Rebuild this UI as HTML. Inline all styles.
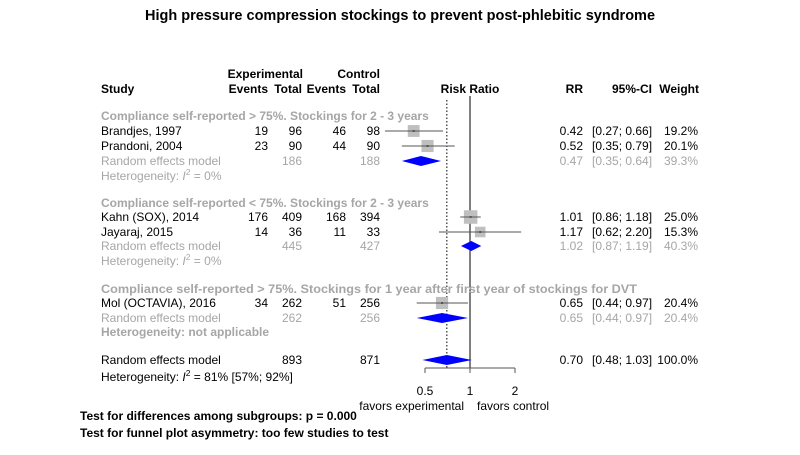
<!DOCTYPE html>
<html><head><meta charset="utf-8"><style>
body{margin:0;background:#fff}
svg{font-family:"Liberation Sans",Arial,sans-serif;font-size:12px}
.b{font-weight:bold;font-size:12px}.g{fill:#a6a6a6}
</style></head><body>
<svg id="c" width="800" height="450">
<text x="400" y="20" text-anchor="middle" font-weight="bold" font-size="14.5">High pressure compression stockings to prevent post-phlebitic syndrome</text>
<g class="b">
<text x="101" y="93">Study</text>
<text x="303" y="78" text-anchor="end">Experimental</text>
<text x="380" y="78" text-anchor="end">Control</text>
<text x="268" y="93" text-anchor="end">Events</text>
<text x="302" y="93" text-anchor="end">Total</text>
<text x="346" y="93" text-anchor="end">Events</text>
<text x="380" y="93" text-anchor="end">Total</text>
<text x="470" y="93" text-anchor="middle">Risk Ratio</text>
<text x="583" y="93" text-anchor="end">RR</text>
<text x="652" y="93" text-anchor="end">95%-CI</text>
<text x="699" y="93" text-anchor="end">Weight</text>
</g>
<g id="plot"></g>
</svg>
<script>
const studies=["Brandjes, 1997","Prandoni, 2004","Kahn (SOX), 2014","Jayaraj, 2015","Mol (OCTAVIA), 2016"];
const eE=[19,23,176,14,34], eT=[96,90,409,36,262], cE=[46,44,168,11,51], cT=[98,90,394,33,256];
const rr=[0.42,0.52,1.01,1.17,0.65], lo=[0.27,0.35,0.86,0.62,0.44], hi=[0.66,0.79,1.18,2.20,0.97], wt=[19.2,20.1,25.0,15.3,20.4];
const studyY=[131,146,217,232,303];
const groups=["Compliance self-reported > 75%. Stockings for 2 - 3 years","Compliance self-reported < 75%. Stockings for 2 - 3 years","Compliance self-reported > 75%. Stockings for 1 year after first year of stockings for DVT"];
const gRR=[0.47,1.02,0.65], gLo=[0.35,0.87,0.44], gHi=[0.64,1.19,0.97], gW=[39.3,40.3,20.4], gET=[186,445,262], gCT=[188,427,256];
const gY=[116,203,289], gHet=["0%","0%",null];
const allRR=0.70, allLo=0.48, allHi=1.03;
const ticks=[0.5,1,2];
const X=v=>470+45*Math.log2(v);
const p=document.getElementById('plot');const NS="http://www.w3.org/2000/svg";
function el(t,a,txt){const e=document.createElementNS(NS,t);for(const k in a)e.setAttribute(k,a[k]);if(txt!=null)e.textContent=txt;p.appendChild(e);return e;}
function tsp(parent,a,txt){const e=document.createElementNS(NS,'tspan');for(const k in a)e.setAttribute(k,a[k]);e.textContent=txt;parent.appendChild(e);return e;}
function het(x,y,cls,pct){const t=el('text',{x:x,y:y,class:cls});tsp(t,{},'Heterogeneity: ');tsp(t,{'font-style':'italic'},'I');tsp(t,{dy:-5,'font-size':8.5},'2');tsp(t,{dy:5},' = '+pct);return t;}
const f2=v=>v.toFixed(2);
function row(y,cls,vals){const xs=[268,302,346,380];vals.forEach((v,i)=>{if(v!=null){const t=el('text',{x:xs[i],y:y+4,'text-anchor':'end',class:cls},v);}});}
function right(y,cls,r,l,h,w){
 let t=el('text',{x:583,y:y+4,'text-anchor':'end',class:cls},f2(r));
 t=el('text',{x:592,y:y+4,class:cls},'['+f2(l)+'; '+f2(h)+']');
 t=el('text',{x:698,y:y+4,'text-anchor':'end',class:cls},w.toFixed(1)+'%');}
function diamond(y,r,l,h){const d=el('polygon',{points:`${X(l)},${y} ${X(r)},${y-5} ${X(h)},${y} ${X(r)},${y+5}`,fill:'#0000ff'});}
let ln=el('line',{x1:470,x2:470,y1:96,y2:368,stroke:'#000'});
ln=el('line',{x1:X(allRR),x2:X(allRR),y1:100,y2:368,stroke:'#000','stroke-dasharray':'1.5,2'});
groups.forEach((g,i)=>{
 const a={x:101,y:gY[i]+4,class:'b g'};if(i==2){a.textLength=536;a.lengthAdjust='spacingAndGlyphs';}
 let t=el('text',a,g);
});
studies.forEach((s,i)=>{const y=studyY[i];
 let t=el('text',{x:101,y:y+4},s);
 row(y,'',[eE[i],eT[i],cE[i],cT[i]]);right(y,'',rr[i],lo[i],hi[i],wt[i]);
 const sz=Math.sqrt(wt[i])*2.7;
 let sq=el('rect',{x:X(rr[i])-sz/2,y:y-sz/2,width:sz,height:sz,fill:'#bfbfbf'});
 let l=el('line',{x1:Math.max(X(lo[i]),380),x2:X(hi[i]),y1:y,y2:y,stroke:'#555'});
 let d=el('rect',{x:X(rr[i])-1,y:y-1,width:2,height:2,fill:'#555'});
});
const reY=[161,246,318];
gRR.forEach((r,i)=>{const y=reY[i];
 let t=el('text',{x:101,y:y+4,class:'g'},'Random effects model');
 row(y,'g',[null,gET[i],null,gCT[i]]);right(y,'g',r,gLo[i],gHi[i],gW[i]);diamond(y,r,gLo[i],gHi[i]);
 if(gHet[i]!=null) t=het(101,y+19,'g',gHet[i]); else t=el('text',{x:101,y:y+18,class:'g b'},'Heterogeneity: not applicable');
 
});
let t=el('text',{x:101,y:364},'Random effects model');
row(360,'',[null,893,null,871]);right(360,'',allRR,allLo,allHi,100);diamond(360,allRR,allLo,allHi);
t=het(101,381,'','81% [57%; 92%]');
ln=el('line',{x1:X(ticks[0]),x2:X(ticks[ticks.length-1]),y1:368,y2:368,stroke:'#555'});
ticks.forEach(v=>{let k=el('line',{x1:X(v),x2:X(v),y1:368,y2:373,stroke:'#555'});
 let tl=el('text',{x:X(v),y:395,'text-anchor':'middle'},String(v));});
t=el('text',{x:464,y:410,'text-anchor':'end'},'favors experimental');
t=el('text',{x:477,y:410},'favors control');
t=el('text',{x:80,y:420,class:'b'},'Test for differences among subgroups: p = 0.000');
t=el('text',{x:80,y:437,class:'b'},'Test for funnel plot asymmetry: too few studies to test');
</script>
</body></html>
